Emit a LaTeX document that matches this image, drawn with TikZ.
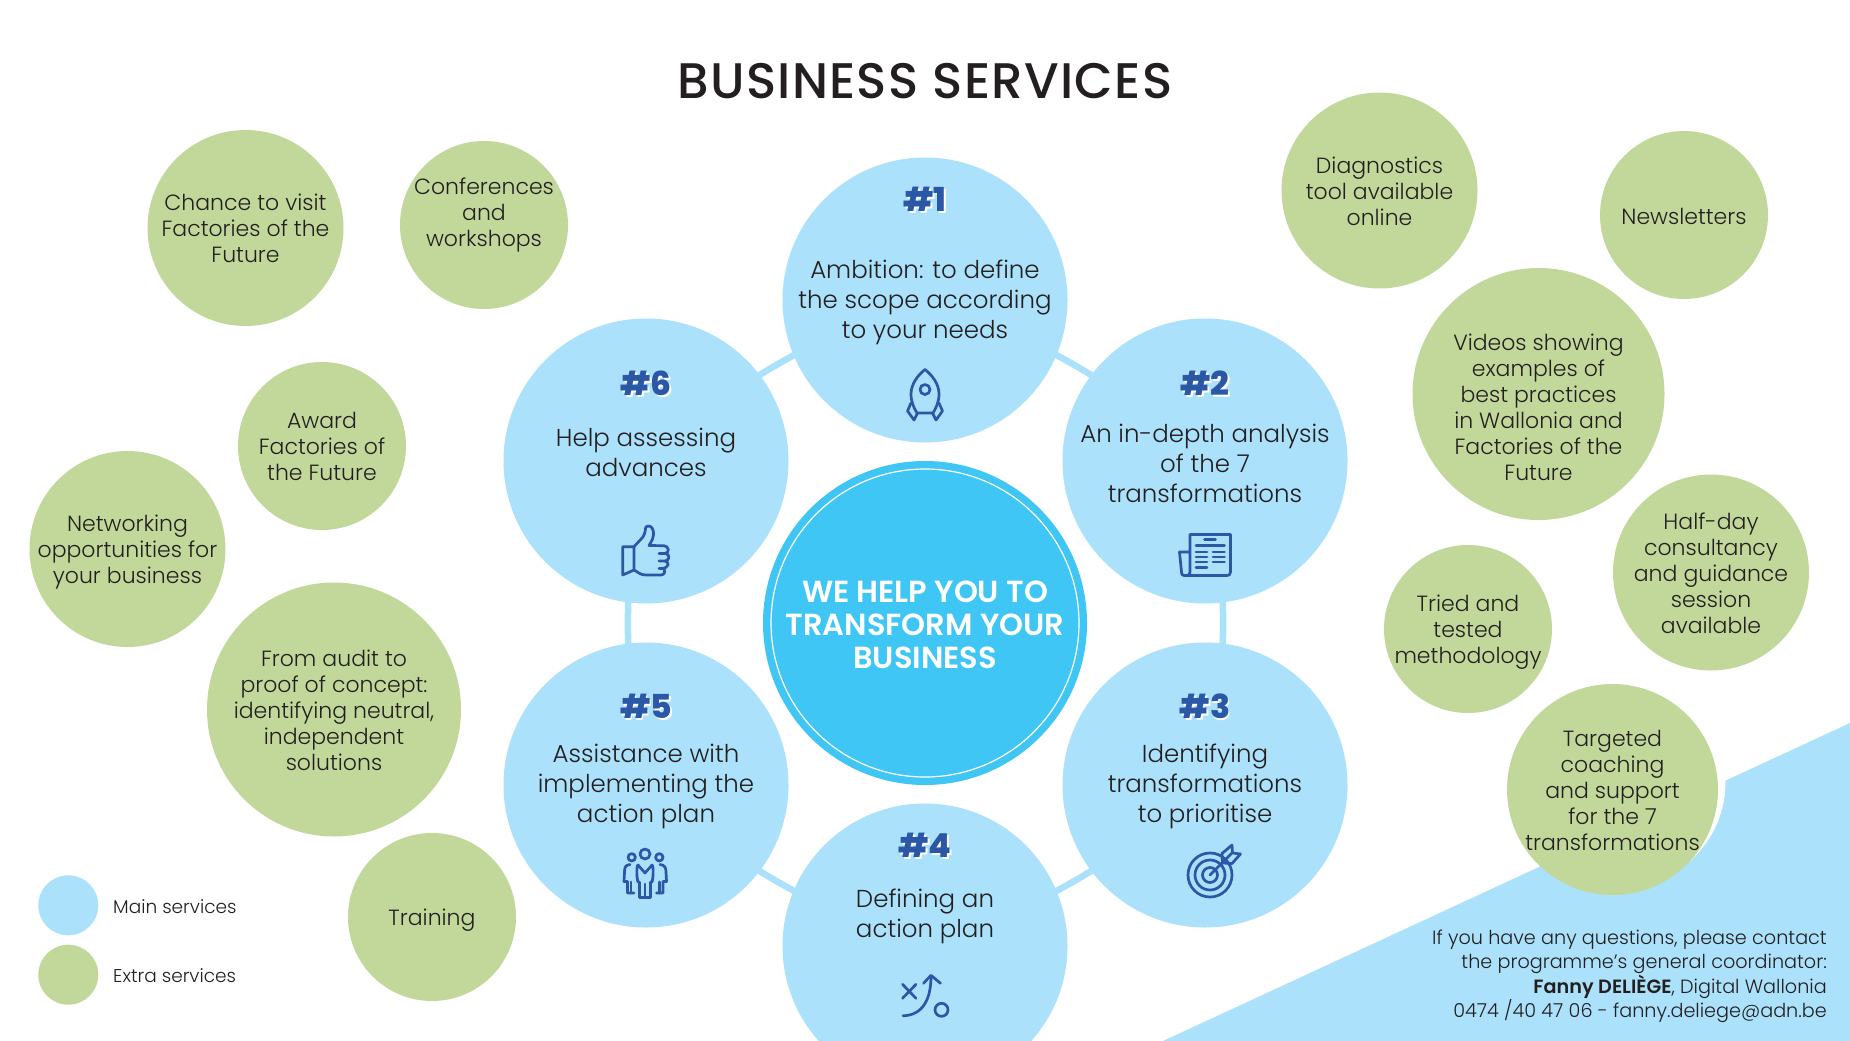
\documentclass[tikz,border=0pt]{standalone}
\usepackage{fontspec}
\setmainfont{Poppins Light}[BoldFont=Poppins SemiBold]
\newfontfamily\numfont{Poppins ExtraBold}
\newfontfamily\titlefont{Poppins Medium}[LetterSpace=2.5]
\usetikzlibrary{backgrounds}
\definecolor{mainblue}{HTML}{ABE1FA}
\definecolor{extragreen}{HTML}{C1D89A}
\definecolor{hubblue}{HTML}{40C6F4}
\definecolor{iconblue}{HTML}{2B57A7}
\definecolor{ink}{HTML}{231F20}
\tikzset{
  x=1pt,y=-1pt,
  mainc/.style={circle,fill=mainblue,minimum size=285pt,inner sep=0pt},
  extrac/.style={circle,fill=extragreen,inner sep=0pt},
  extrat/.style={align=center,text=ink,inner sep=0pt,font=\fontsize{22}{26}\selectfont},
  bluetext/.style={align=center,text=ink,inner sep=0pt,font=\fontsize{24.5}{30}\selectfont},
  numtext/.style={text=iconblue,inner sep=0pt,font=\numfont\fontsize{33}{38}\selectfont},
  numshadow/.style={text=white,inner sep=0pt,font=\numfont\fontsize{33}{38}\selectfont},
  ringlink/.style={draw=mainblue,line width=6.5pt},
  icon/.style={draw=iconblue,line width=2.7pt,line cap=round,line join=round},
  legendc/.style={circle,inner sep=0pt,minimum size=60pt},
  legendt/.style={anchor=west,inner sep=0pt,text=ink,font=\fontsize{18.5}{22}\selectfont},
}
\begin{document}
\begin{tikzpicture}
\useasboundingbox (0,0) rectangle (1850,1041);
% corner triangle
\coordinate (triA) at (1163,1041);
\coordinate (triB) at (1850,723);
\coordinate (triC) at (1850,1041);
\fill[mainblue] (triA) -- (triB) -- (triC) -- cycle;
\node[circle,fill=white,minimum size=211pt,inner sep=0pt] (coachgap) at (1620,782) {};
% title
\node[text=ink,inner sep=0pt,font=\titlefont\fontsize{50}{54}\selectfont] (title) at (925,81) {BUSINESS SERVICES};
% main circles
\node[mainc] (n1) at (925,300) {};
\node[mainc] (n2) at (1205,461) {};
\node[mainc] (n3) at (1205,785) {};
\node[mainc] (n4) at (925,946) {};
\node[mainc] (n5) at (646,785) {};
\node[mainc] (n6) at (646,461) {};
\begin{scope}[on background layer]
  \fill[white] (0,0) rectangle (1850,1041);
  \draw[ringlink] (n1.center) to[bend left=11] (n2.center);
  \draw[ringlink] (n2.center) to[bend left=11] (n3.center);
  \draw[ringlink] (n3.center) to[bend left=11] (n4.center);
  \draw[ringlink] (n4.center) to[bend left=11] (n5.center);
  \draw[ringlink] (n5.center) to[bend left=11] (n6.center);
  \draw[ringlink] (n6.center) to[bend left=11] (n1.center);
\end{scope}
% hub
\node[circle,fill=hubblue,minimum size=324pt,inner sep=0pt] (hub) at (925,623) {};
\node[circle,draw=white,line width=1.2pt,minimum size=308pt,inner sep=0pt] (hubring) at (925,623) {};
\node[align=center,text=white,inner sep=0pt,font=\bfseries\fontsize{30.5}{33}\selectfont] (hubt) at (925,625) {WE HELP YOU TO\\TRANSFORM YOUR\\BUSINESS};
% numbers
\foreach \nm/\tx/\ty/\lab in {a/925/199/\#1,b/1205/383/\#2,c/1205/706/\#3,d/925/845/\#4,e/646/706/\#5,f/646/383/\#6}{
  \node[numshadow] (s\nm) at (\tx+1.8,\ty+2.2) {\lab};
  \node[numtext] (h\nm) at (\tx,\ty) {\lab};
}
% descriptions
\node[bluetext] (t1) at (925,302.5) {Ambition: to define\\the scope according\\to your needs};
\node[bluetext] (t2) at (1205,463) {An in-depth analysis\\of the 7\\transformations};
\node[bluetext] (t3) at (1205,786) {Identifying\\transformations\\to prioritise};
\node[bluetext] (t4) at (925,916.5) {Defining an\\action plan};
\node[bluetext] (t5) at (646,786) {Assistance with\\implementing the\\action plan};
\node[bluetext] (t6) at (646,452) {Help assessing\\advances};
% icons
\begin{scope}
  % rocket
  \draw[icon] (925,369.5) .. controls (932,375) and (939,384) .. (939,394) .. controls (939,402) and (936,408) .. (933,413) -- (917,413) .. controls (914,408) and (911,402) .. (911,394) .. controls (911,384) and (918,375) .. (925,369.5) -- cycle;
  \draw[icon] (925,389.5) circle[radius=5];
  \draw[icon] (939,403) -- (942.5,411) -- (936,420) -- (932.5,413);
  \draw[icon] (911,403) -- (907.5,411) -- (914,420) -- (917.5,413);
  % newspaper
  \draw[icon] (1190,552) -- (1190,534.5) -- (1230.5,534.5) -- (1230.5,572) .. controls (1230.5,574.5) and (1229,575.5) .. (1227,575.5) -- (1184,575.5) .. controls (1182,575.5) and (1181.5,574) .. (1181.5,572) -- (1179.5,552) -- (1190,552) -- (1190,572) .. controls (1190,574) and (1189,575.5) .. (1187,575.5);
  \draw[icon] (1204.5,539.5) -- (1215.5,539.5);
  \draw[icon] (1196,545.7) -- (1224.5,545.7);
  \foreach \yy in {552,557,562}{
    \draw[icon] (1196,\yy) -- (1207,\yy);
    \draw[icon] (1213,\yy) -- (1224.5,\yy);
  }
  \draw[icon] (1196,567.5) -- (1207,567.5);
  % target
  \draw[icon] (1210,875) circle[radius=22];
  \draw[icon] (1210,875) circle[radius=15];
  \draw[icon] (1210,875) circle[radius=7.5];
  \draw[icon] (1210,875) -- (1231.5,853.5);
  \draw[icon] (1222,853.5) -- (1232,845) -- (1232.5,853) -- (1240.5,854) -- (1232,863.5) -- (1222.5,863);
  \draw[icon] (1222,853.5) -- (1222.5,863);
  % plan
  \begin{scope}[shift={(0,15.3)}]
  \draw[icon] (902.5,969) -- (916,983);
  \draw[icon] (916,969) -- (902.5,983);
  \draw[icon] (903,1000.5) .. controls (922,1000) and (931,985) .. (931,961);
  \draw[icon] (923.5,968) -- (931,960) -- (940.5,968);
  \draw[icon] (941.5,994.5) circle[radius=6.5];
  \end{scope}
  % team
  \draw[icon] (645,854) circle[radius=5];
  \draw[icon] (631.7,857.3) circle[radius=3.7];
  \draw[icon] (659.3,857.3) circle[radius=3.7];
  \draw[icon] (638,865) .. controls (636,866) and (637,880) .. (638,882) -- (639.5,882) -- (639.5,897.5) -- (650.5,897.5) -- (650.5,882) -- (652,882) .. controls (653,880) and (654,866) .. (652,865) -- (645,873) -- cycle;
  \draw[icon] (645,884) -- (645,897.5);
  \draw[icon] (630,864.5) .. controls (625,865) and (624.5,868) .. (624.5,872) -- (624,881.5) -- (627.5,881.5) -- (627.5,893) -- (634,893);
  \draw[icon] (631,882) -- (631,893);
  \draw[icon] (660,864.5) .. controls (665,865) and (666,868) .. (666,872) -- (666.5,881.5) -- (663,881.5) -- (663,893) -- (656.5,893);
  \draw[icon] (659.5,882) -- (659.5,893);
  % thumb
  \draw[icon] (634,546.7) -- (622.7,546.7) -- (622.7,575) -- (634,570) -- cycle;
  \draw[icon] (634,546.7) -- (643,537) .. controls (646,532) and (645,528) .. (646,527) .. controls (648,525) and (652,526) .. (653,530) .. controls (655,537) and (651,542) .. (649,545.5) -- (664,545.7) .. controls (669,546) and (670,553) .. (665,553.5) -- (659,553.5) -- (666,553.5) .. controls (670,555) and (670,560) .. (665,561) -- (659,561) -- (665,561) .. controls (670,562) and (669,568) .. (662,568.5) -- (659,568.5) -- (663,568.5) .. controls (666,570) and (665,575) .. (661,575) -- (646,575) .. controls (640,575) and (638,572) .. (634,570);
\end{scope}
% extras
\node[extrac,minimum size=196pt] (e1) at (245.5,228) {};
\node[extrac,minimum size=168pt] (e2) at (484,225) {};
\node[extrac,minimum size=168pt] (e3) at (322,446) {};
\node[extrac,minimum size=196pt] (e4) at (127.5,549) {};
\node[extrac,minimum size=254pt] (e5) at (334,709.5) {};
\node[extrac,minimum size=168pt] (e6) at (432,917) {};
\node[extrac,minimum size=196pt] (e7) at (1379.5,190.5) {};
\node[extrac,minimum size=168pt] (e8) at (1684,215) {};
\node[extrac,minimum size=252pt] (e9) at (1538.5,394) {};
\node[extrac,minimum size=196pt] (e10) at (1711,572.5) {};
\node[extrac,minimum size=168pt] (e11) at (1468,629) {};
\node[extrac,minimum size=211pt] (e12) at (1612.5,789.5) {};
\node[extrat] (x1) at (245.5,228) {Chance to visit\\Factories of the\\Future};
\node[extrat] (x2) at (484,215.5) {Conferences\\and\\workshops};
\node[extrat] (x3) at (322,446.5) {Award\\Factories of\\the Future};
\node[extrat] (x4) at (127.5,552.5) {Networking\\opportunities for\\your business};
\node[extrat] (x5) at (334,710.5) {From audit to\\proof of concept:\\identifying neutral,\\independent\\solutions};
\node[extrat] (x6) at (432,920.5) {Training};
\node[extrat] (x7) at (1379.5,191.5) {Diagnostics\\tool available\\online};
\node[extrat] (x8) at (1684,216) {Newsletters};
\node[extrat] (x9) at (1538.5,407) {Videos showing\\examples of\\best practices\\in Wallonia and\\Factories of the\\Future};
\node[extrat] (x10) at (1711,573.5) {Half-day\\consultancy\\and guidance\\session\\available};
\node[extrat] (x11) at (1468,632.5) {Tried and\\tested\\methodology};
\node[extrat] (x12) at (1612.5,790.5) {Targeted\\coaching\\and support\\for the 7\\transformations};
% contact
\node[anchor=east,align=right,inner sep=0pt,text=ink,font=\fontsize{19.2}{24.3}\selectfont] (contact) at (1827,976.3) {If you have any questions, please contact\\the programme’s general coordinator:\\\textbf{Fanny DELIÈGE}, Digital Wallonia\\0474 /40 47 06 - fanny.deliege@adn.be};
% legend
\node[legendc,fill=mainblue] (lmain) at (68.3,905.3) {};
\node[legendc,fill=extragreen] (lextra) at (68.3,974.7) {};
\node[legendt] (lmaint) at (113,907) {Main services};
\node[legendt] (lextrat) at (113,976) {Extra services};
\end{tikzpicture}
\end{document}
